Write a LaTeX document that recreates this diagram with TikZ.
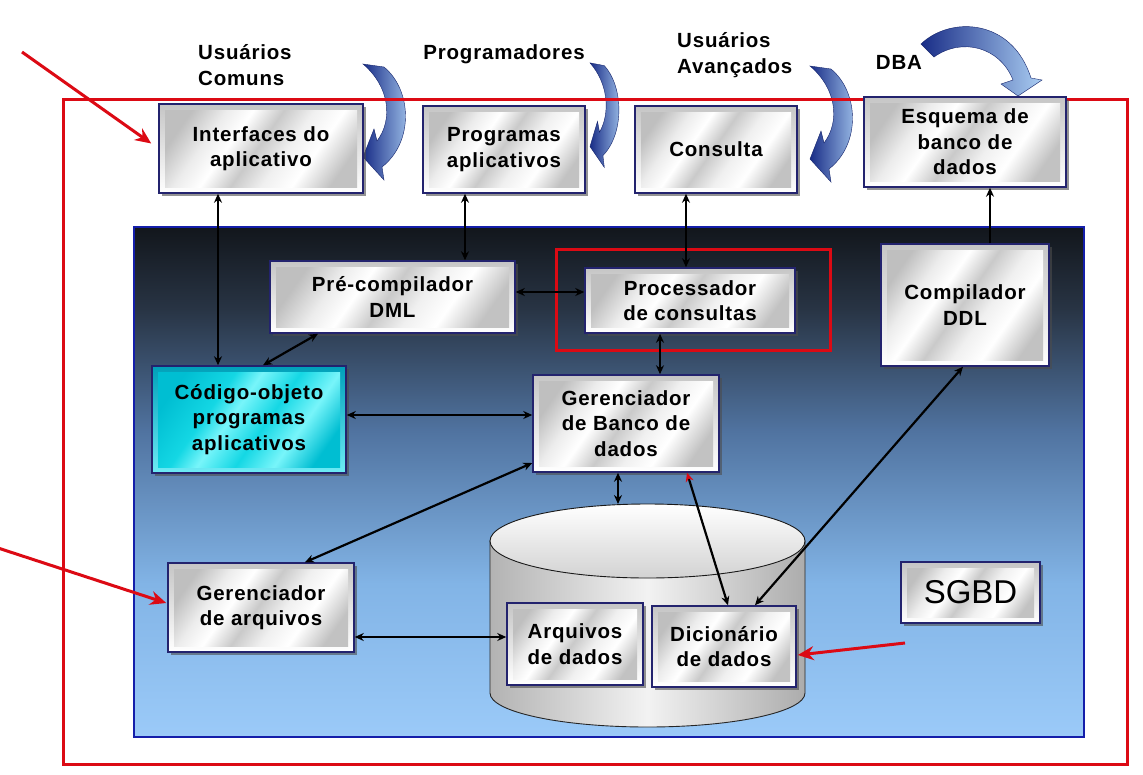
\documentclass[tikz,border=0pt]{standalone}
\usepackage{fontspec}
\setmainfont{Liberation Sans}
\newfontfamily\bfam{Liberation Sans}[LetterSpace=4]
\usetikzlibrary{shadows,arrows.meta}

\definecolor{boxborder}{RGB}{35,35,110}
\definecolor{panelborder}{RGB}{20,30,170}
\definecolor{framered}{RGB}{220,10,20}
\definecolor{ptop}{RGB}{18,22,28}
\definecolor{pdark}{RGB}{40,52,68}
\definecolor{pmid}{RGB}{80,115,160}
\definecolor{plight}{RGB}{130,180,230}
\definecolor{pbot}{RGB}{155,202,248}
\definecolor{hookdark}{RGB}{25,45,135}
\definecolor{hooklight}{RGB}{170,205,242}
\definecolor{cyanA}{RGB}{0,160,185}
\definecolor{cyanB}{RGB}{110,235,245}
\definecolor{cyanC}{RGB}{20,215,228}
\definecolor{cyanD}{RGB}{120,245,250}
\definecolor{cyanE}{RGB}{0,190,210}

\pgfdeclareverticalshading{panel}{100bp}{color(0bp)=(pbot); color(25bp)=(pbot); color(40bp)=(plight); color(55bp)=(pmid); color(67bp)=(pdark); color(75bp)=(ptop); color(100bp)=(ptop)}
\pgfdeclarehorizontalshading{metal}{100bp}{color(0bp)=(gray!50); color(25bp)=(gray!50); color(34bp)=(gray!15); color(41bp)=(white); color(49bp)=(gray!42); color(57bp)=(gray!12); color(65bp)=(white); color(75bp)=(gray!48); color(100bp)=(gray!48)}
\pgfdeclarehorizontalshading{cyanmetal}{100bp}{color(0bp)=(cyanE); color(25bp)=(cyanE); color(38bp)=(cyanC); color(45bp)=(cyanD); color(55bp)=(cyanC); color(65bp)=(cyanD); color(75bp)=(cyanE); color(100bp)=(cyanE)}

\newcommand\boxfont{\bfam\bfseries\fontsize{20.5}{25.5}\selectfont}
\newcommand\hookarrow[2]{\begin{scope}[#1]\shade[#2, draw=hookdark!80!black, line width=0.4pt] (0,1) -- (21,4) .. controls (49,27) and (51,79) .. (19,104) -- (21,117) -- (0,94) -- (11,66) -- (14,78) .. controls (30,57) and (27,24) .. (0,1) -- cycle;\end{scope}}

\begin{document}
\begin{tikzpicture}[x=1pt,y=-1pt,
  inner shading/.store in=\innershade, inner shading=metal,
  conn/.style={black, line width=2.2pt, {Stealth[length=9pt,width=8pt]}-{Stealth[length=9pt,width=8pt]}},
  single/.style={black, line width=2.2pt, -{Stealth[length=9pt,width=8pt]}},
  conntwo/.style={black, line width=2.2pt, {Stealth[length=9pt,width=8pt,color=framered]}-{Stealth[length=9pt,width=8pt]}},
  redarr/.style={framered, line width=3pt, -{Stealth[length=16pt,width=14pt]}},
  box/.style={draw=boxborder, line width=1.5pt, top color=gray!45, bottom color=white,
    drop shadow={shadow xshift=2.5pt,shadow yshift=-2.5pt,opacity=0.6,fill=black!70},
    inner sep=0pt, align=center, font=\boxfont,
    path picture={\shade[shading=\innershade, shading angle=-35] ([shift={(6pt,6pt)}]path picture bounding box.south west) rectangle ([shift={(-6pt,-6pt)}]path picture bounding box.north east);}},
  cyanbox/.style={box, top color=cyanA, bottom color=cyanB, inner shading=cyanmetal},
  lbl/.style={font=\boxfont, align=left, inner sep=0pt}
]
\path[use as bounding box, fill=white] (0,0) rectangle (1143,774);

% panel
\shade[shading=panel] (134,227) rectangle (1084,737);
\draw[panelborder, line width=2.5pt] (134,227) rectangle (1084,737);

% curved block arrows
\hookarrow{shift={(363,63)}}{left color=hookdark, right color=hooklight}
\hookarrow{shift={(590,62)}, xscale=0.68, yscale=0.9}{left color=hookdark, right color=hooklight}
\hookarrow{shift={(810,65)}}{left color=hookdark, right color=hooklight}
\shade[left color=hookdark, right color=hooklight, draw=hookdark!80!black, line width=0.4pt]
  (921,44) .. controls (950,16) and (1012,18) .. (1031,78) -- (1042,80) -- (1018,96) -- (1001,84) -- (1013,80) .. controls (1000,47) and (962,37) .. (934,57) -- cycle;

% outer red frame
\draw[framered, line width=3pt] (63,99) rectangle (1127,764);

% labels
\node[lbl, anchor=west] (lcom) at (198,65) {Usuários\\Comuns};
\node[lbl] (lprog) at (504,54) {Programadores};
\node[lbl, anchor=west] (lava) at (677,55) {Usuários\\Avançados};
\node[lbl] (ldba) at (899,62) {DBA};

% cylinder
\shade[left color=gray!60, right color=gray!65, middle color=gray!10, draw=gray!30!black, line width=0.9pt]
  (490,541) -- (490,693) arc[start angle=180, end angle=0, x radius=157.5, y radius=34] -- (805,541) -- cycle;
\shade[top color=white, bottom color=gray!35, draw=gray!20!black, line width=0.9pt]
  (647.5,541) ellipse[x radius=157.5, y radius=37];
\coordinate (cyltop) at (618,504);

% boxes
\node[box, minimum width=204pt, minimum height=89pt] (iface) at (261,148.5) {Interfaces do\\aplicativo};
\node[box, minimum width=162pt, minimum height=87pt] (prog) at (504,149.5) {Programas\\aplicativos};
\node[box, minimum width=162pt, minimum height=87pt] (cons) at (716,149.5) {Consulta};
\node[box, minimum width=202pt, minimum height=90pt] (esq) at (965,142) {Esquema de\\banco de\\dados};
\node[box, minimum width=245pt, minimum height=72pt] (prec) at (392.5,297) {Pré-compilador\\DML};
\node[box, minimum width=210pt, minimum height=65pt] (proc) at (690,300.5) {Processador\\de consultas};
\node[box, minimum width=168pt, minimum height=122pt] (ddl) at (965,305) {Compilador\\DDL};
\node[cyanbox, minimum width=194pt, minimum height=107pt] (cod) at (249,419.5) {Código-objeto\\programas\\aplicativos};
\node[box, minimum width=186pt, minimum height=97pt] (gbd) at (626,423.5) {Gerenciador\\de Banco de\\dados};
\node[box, minimum width=186pt, minimum height=89pt] (garq) at (261,607.5) {Gerenciador\\de arquivos};
\node[box, minimum width=136pt, minimum height=82pt] (arq) at (575,644) {Arquivos\\de dados};
\node[box, minimum width=144pt, minimum height=81pt] (dic) at (724,646.5) {Dicionário\\de dados};
\node[box, minimum width=139pt, minimum height=61pt, font=\fontsize{33}{36}\selectfont] (sgbd) at (970.5,592.5) {SGBD};

% red highlight around query processor
\draw[framered, line width=2.8pt] ([shift={(-28pt,18pt)}]proc.north west) rectangle ([shift={(35pt,-17pt)}]proc.south east);

% connectors
\draw[conn] ([xshift=-43pt]iface.south) -- ([xshift=-31pt]cod.north);
\draw[conn] ([xshift=-39pt]prog.south) -- ([xshift=72.5pt]prec.north);
\draw[conn] ([xshift=-30pt]cons.south) -- ([xshift=-4pt]proc.north);
\draw[single] ([xshift=25pt]ddl.north) -- ([xshift=25pt]esq.south);
\draw[conn] ([yshift=5pt]prec.east) -- ([yshift=8.5pt]proc.west);
\draw[conn] ([xshift=-74.5pt]prec.south) -- ([xshift=14pt]cod.north);
\draw[conn] ([xshift=-30pt]proc.south) -- ([xshift=34pt]gbd.north);
\draw[conn] ([yshift=4.5pt]cod.east) -- ([yshift=8.5pt]gbd.west);
\draw[conn] ([yshift=-39.5pt]gbd.west) -- ([xshift=44pt]garq.north);
\draw[conn] ([xshift=-8pt]gbd.south) -- (cyltop);
\draw[conntwo] ([xshift=61pt]gbd.south) -- ([xshift=4pt]dic.north);
\draw[conn] ([xshift=-2pt]ddl.south) -- ([xshift=31pt]dic.north);
\draw[conn] ([yshift=-29.5pt]garq.east) -- ([yshift=7pt]arq.west);

% red annotation arrows
\coordinate (r1) at (22,52);
\coordinate (r2) at (-2,548);
\coordinate (r3) at (905,643);
\draw[redarr] (r1) -- ([xshift=-7pt,yshift=5pt]iface.west);
\draw[redarr] (r2) -- ([xshift=-1pt,yshift=4.5pt]garq.west);
\draw[redarr] (r3) -- ([xshift=1pt,yshift=-8.5pt]dic.east);
\end{tikzpicture}
\end{document}
